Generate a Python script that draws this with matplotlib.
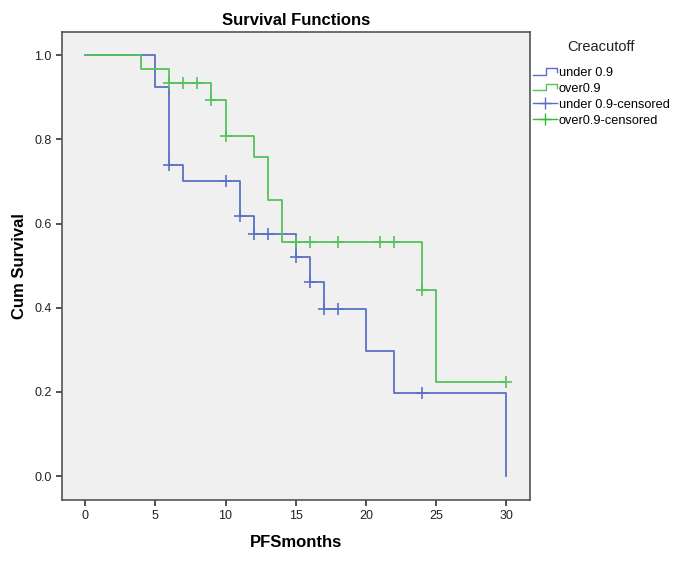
import matplotlib
matplotlib.use("Agg")
import matplotlib.pyplot as plt
from matplotlib.legend_handler import HandlerBase
from matplotlib.lines import Line2D

plt.rcParams["font.family"] = ["Liberation Sans", "DejaVu Sans"]

# --- data ---
under_t = [0, 5, 6, 7, 11, 12, 15, 16, 17, 20, 22, 30]
under_s = [1.0, 0.925, 0.738, 0.700, 0.617, 0.574, 0.521, 0.462, 0.396, 0.297, 0.197, 0.0]
under_cens_t = [6, 10, 11, 12, 13, 15, 16, 17, 18, 24]
under_cens_s = [0.738, 0.700, 0.617, 0.574, 0.574, 0.521, 0.462, 0.396, 0.396, 0.197]

over_t = [0, 4, 6, 9, 10, 12, 13, 14, 24, 25]
over_s = [1.0, 0.966, 0.933, 0.893, 0.807, 0.758, 0.656, 0.556, 0.443, 0.223]
over_cens_t = [6, 7, 8, 9, 10, 15, 16, 18, 21, 22, 24, 30]
over_cens_s = [0.933, 0.933, 0.933, 0.893, 0.807, 0.556, 0.556, 0.556, 0.556, 0.556, 0.443, 0.223]
follow_up_end = 30

x_ticks = [0, 5, 10, 15, 20, 25, 30]
y_ticks = [0.0, 0.2, 0.4, 0.6, 0.8, 1.0]
legend_labels = ["under 0.9", "over0.9", "under 0.9-censored", "over0.9-censored"]

BLUE = "#5a70c4"
GREEN = "#55c25a"
BG = "#f0f0f0"


class StepHandler(HandlerBase):
    """Legend handle drawn as a small step, like SPSS."""

    def create_artists(self, legend, orig_handle, xdescent, ydescent,
                       width, height, fontsize, trans):
        x0, w, h = -xdescent, width, height
        xs = [x0, x0 + 0.55 * w, x0 + 0.55 * w, x0 + w, x0 + w]
        ys = [0.15 * h, 0.15 * h, 0.85 * h, 0.85 * h, 0.45 * h]
        line = Line2D(xs, ys, color=orig_handle.get_color(), lw=1.0)
        line.set_transform(trans)
        return [line]


fig = plt.figure(figsize=(6.8, 5.61), dpi=100)
ax = fig.add_axes([0.0912, 0.1087, 0.688, 0.8342])
ax.set_facecolor(BG)

ux = under_t + [follow_up_end]
uy = under_s + [under_s[-1]]
ox = over_t + [follow_up_end]
oy = over_s + [over_s[-1]]

l_under, = ax.step(ux, uy, where="post", color=BLUE, lw=1.3)
l_over, = ax.step(ox, oy, where="post", color=GREEN, lw=1.3)
ax.plot(under_cens_t, under_cens_s, ls="none", marker="+", ms=8, mew=1.2, color=BLUE)
ax.plot(over_cens_t, over_cens_s, ls="none", marker="+", ms=8, mew=1.2, color=GREEN)

ax.set_xlim(-1.64, 31.67)
ax.set_ylim(-0.057, 1.055)
ax.set_xticks(x_ticks)
ax.set_yticks(y_ticks)
ax.set_yticklabels([f"{v:.1f}" for v in y_ticks])
ax.tick_params(labelsize=9, length=4, width=1.2, color="#333333", labelcolor="#222222")
for s in ax.spines.values():
    s.set_color("#555555")
    s.set_linewidth(1.2)

ax.set_title("Survival Functions", fontsize=12, fontweight="bold", pad=5)
ax.set_xlabel("PFSmonths", fontsize=12, fontweight="bold", labelpad=9)
ax.set_ylabel("Cum Survival", fontsize=12, fontweight="bold", labelpad=5)

# legend (title drawn separately so it can be centred like SPSS)
c_under = Line2D([], [], color=BLUE, lw=1.0, marker="+", ms=9, mew=1.0)
c_over = Line2D([], [], color="#33bb33", lw=1.0, marker="+", ms=9, mew=1.0)
fig.legend(
    [l_under, l_over, c_under, c_over], legend_labels,
    handler_map={l_under: StepHandler(), l_over: StepHandler()},
    loc="upper left", bbox_to_anchor=(533 / 680, 1 - 67 / 561),
    frameon=False, fontsize=9.2, numpoints=1,
    handlelength=1.9, handletextpad=0.1, labelspacing=0.3,
    borderaxespad=0, borderpad=0,
)
fig.text(601 / 680, 1 - 47 / 561, "Creacutoff", fontsize=10.5,
         ha="center", va="center", color="#222222")

fig.savefig("out.png", dpi=100)
